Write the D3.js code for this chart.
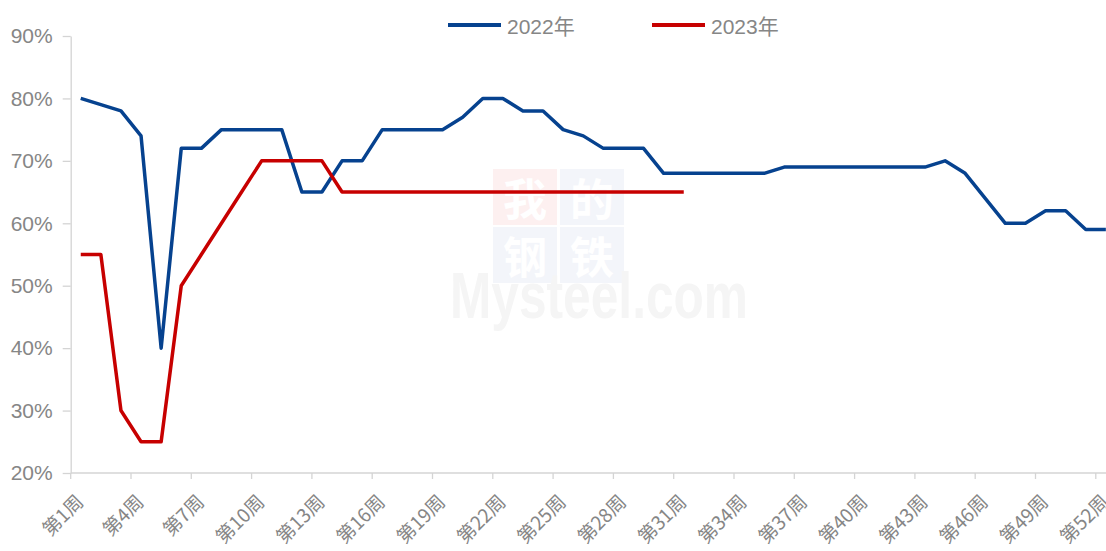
<html>
<head>
<meta charset="UTF-8">
<script src="https://d3js.org/d3.v7.min.js"></script>
<style>
  body { margin: 0; background: #fff; }
  .axis path, .axis line { stroke: #d4d4d4; stroke-width: 1.3px; }
  .axis text { fill: #868686; font-family: "Liberation Sans", "Noto Sans CJK SC", sans-serif; }
  .ylab text { font-size: 21px; }
  .xlab text { font-size: 19px; font-family: "Noto Sans CJK SC", sans-serif; }
  .legend text { fill: #868686; font-size: 21px; font-family: "Liberation Sans", "Noto Sans CJK SC", sans-serif; }
</style>
</head>
<body>
<svg id="chart" width="1106" height="551"></svg>
<script>
// weeks 1..52
const weeks = d3.range(1, 53);
const tickWeeks = [1, 4, 7, 10, 13, 16, 19, 22, 25, 28, 31, 34, 37, 40, 43, 46, 49, 52];
const yTicks = [0.2, 0.3, 0.4, 0.5, 0.6, 0.7, 0.8, 0.9];

// utilisation by week, in %
const rate2022 = [80, 79, 78, 74, 40, 72, 72, 75, 75, 75, 75, 65, 65, 70, 70, 75, 75, 75, 75, 77,
                  80, 80, 78, 78, 75, 74, 72, 72, 72, 68, 68, 68, 68, 68, 68, 69, 69, 69, 69, 69,
                  69, 69, 69, 70, 68, 64, 60, 60, 62, 62, 59, 59];
const rate2023 = [55, 55, 30, 25, 25, 50, 55, 60, 65, 70, 70, 70, 70, 65, 65, 65, 65, 65, 65, 65,
                  65, 65, 65, 65, 65, 65, 65, 65, 65, 65, 65];

const series = [
  { name: '2022年', values: rate2022, color: '#06428f' },
  { name: '2023年', values: rate2023, color: '#c70000' }
];

const svg = d3.select('#chart');
const plotLeft = 70.7, plotTop = 36, plotBottom = 473;

const x = d3.scaleBand().domain(weeks).range([plotLeft, plotLeft + 52 * 20.1]).padding(0);
const y = d3.scaleLinear().domain([0.2, 0.9]).range([plotBottom, plotTop]);
const bw = x.bandwidth();

// faint watermark
const wm = svg.append('g').attr('class', 'watermark');
const tiles = [
  { t: '我', x: 493, y: 169, c: '#fdf0f0' },
  { t: '的', x: 560, y: 169, c: '#f3f5fa' },
  { t: '钢', x: 493, y: 227, c: '#f3f5fa' },
  { t: '铁', x: 560, y: 227, c: '#f3f5fa' }
];
wm.selectAll('rect').data(tiles).join('rect')
  .attr('x', d => d.x).attr('y', d => d.y)
  .attr('width', 64).attr('height', 56)
  .attr('fill', d => d.c);
wm.selectAll('text.ch').data(tiles).join('text')
  .attr('class', 'ch')
  .attr('x', d => d.x + 32).attr('y', d => d.y + 28)
  .attr('text-anchor', 'middle').attr('dominant-baseline', 'central')
  .attr('font-family', '"Noto Sans CJK SC", sans-serif')
  .attr('font-weight', 'bold').attr('font-size', 44)
  .attr('fill', '#fff')
  .text(d => d.t);
wm.append('text')
  .attr('x', 450).attr('y', 318)
  .attr('font-family', '"Liberation Sans", sans-serif')
  .attr('font-weight', 'bold').attr('font-size', 64)
  .attr('textLength', 298).attr('lengthAdjust', 'spacingAndGlyphs')
  .attr('fill', '#f5f5f5')
  .text('Mysteel.com');

// y axis
svg.append('g')
  .attr('class', 'axis ylab')
  .attr('transform', 'translate(' + plotLeft + ',0)')
  .call(d3.axisLeft(y).tickValues(yTicks).tickFormat(d3.format('.0%')).tickSize(8).tickSizeOuter(0).tickPadding(10));

// x axis, ticks on band edges, labels at band centres
const xAxis = svg.append('g')
  .attr('class', 'axis xlab')
  .attr('transform', 'translate(0,' + plotBottom + ')')
  .call(d3.axisBottom(x).tickValues(tickWeeks).tickFormat(d => '第' + d + '周').tickSize(6).tickSizeOuter(0));
xAxis.selectAll('.tick line').attr('x1', -bw / 2).attr('x2', -bw / 2);
xAxis.selectAll('.tick text')
  .attr('text-anchor', 'end')
  .attr('dominant-baseline', 'central')
  .attr('y', 0).attr('dy', null)
  .attr('transform', 'translate(-2,24) rotate(-45)');
xAxis.select('.domain').attr('d', 'M' + plotLeft + ',0H1106');

// lines
const line = d3.line()
  .x((d, i) => x(weeks[i]) + bw / 2)
  .y(d => y(d / 100));

svg.selectAll('path.series').data(series).join('path')
  .attr('class', 'series')
  .attr('fill', 'none')
  .attr('stroke', d => d.color)
  .attr('stroke-width', 3.5)
  .attr('stroke-linejoin', 'round')
  .attr('d', d => line(d.values));

// legend
const legendX = [448, 652];
const legend = svg.append('g').attr('class', 'legend');
const items = legend.selectAll('g').data(series).join('g')
  .attr('transform', (d, i) => 'translate(' + legendX[i] + ',25)');
items.append('line')
  .attr('x1', 0).attr('x2', 53)
  .attr('stroke', d => d.color).attr('stroke-width', 4);
items.append('text')
  .attr('x', 59).attr('y', 1)
  .attr('dominant-baseline', 'central')
  .text(d => d.name);
</script>
</body>
</html>
